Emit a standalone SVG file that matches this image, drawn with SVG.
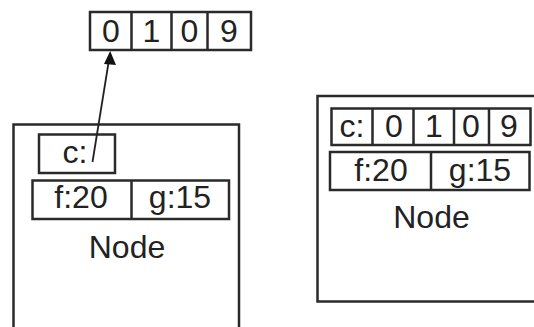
<svg xmlns="http://www.w3.org/2000/svg" width="534" height="327" viewBox="0 0 534 327">
<defs>
<style>
.b{fill:#fff;stroke:#2a2a2a;stroke-width:2.5}
.d{stroke:#2a2a2a;stroke-width:2.5;fill:none}
text{font-family:"Liberation Sans",Arial,sans-serif;font-size:32px;fill:#222;text-anchor:middle}
</style>
</defs>
<g id="array">
<rect class="b" x="90" y="12" width="161" height="38"/>
<path class="d" d="M131.5,12V50M171.5,12V50M207.5,12V50"/>
<text x="111" y="42">0</text>
<text x="151.5" y="42">1</text>
<text x="189.5" y="42">0</text>
<text x="229" y="42">9</text>
</g>
<g id="node1">
<rect class="b" x="13.5" y="124.5" width="225.5" height="215"/>
<rect class="b" x="39" y="134.5" width="76" height="38.5"/>
<text x="75" y="163">c:</text>
<rect class="b" x="32.5" y="180.5" width="196.5" height="38.5"/>
<path class="d" d="M131.5,180.5V219"/>
<text x="81" y="208">f:20</text>
<text x="180" y="208">g:15</text>
<text x="127" y="258">Node</text>
</g>
<g id="node2">
<rect class="b" x="317.5" y="96" width="230" height="205.5"/>
<rect class="b" x="331.5" y="108.5" width="199" height="36.5"/>
<path class="d" d="M372.5,108.5V145M413.5,108.5V145M454,108.5V145M489,108.5V145"/>
<text x="352" y="137">c:</text>
<text x="394" y="137">0</text>
<text x="434" y="137">1</text>
<text x="471" y="137">0</text>
<text x="509" y="137">9</text>
<rect class="b" x="330" y="152" width="199.5" height="38"/>
<path class="d" d="M431,152V190"/>
<text x="381" y="181">f:20</text>
<text x="480" y="181">g:15</text>
<text x="431.5" y="228">Node</text>
</g>
<g id="connectors">
<line x1="92.5" y1="162" x2="108.3" y2="64" stroke="#222" stroke-width="1.8"/>
<path d="M110.2,51 L116,65 L104,64 Z" fill="#111"/>
</g>
</svg>
